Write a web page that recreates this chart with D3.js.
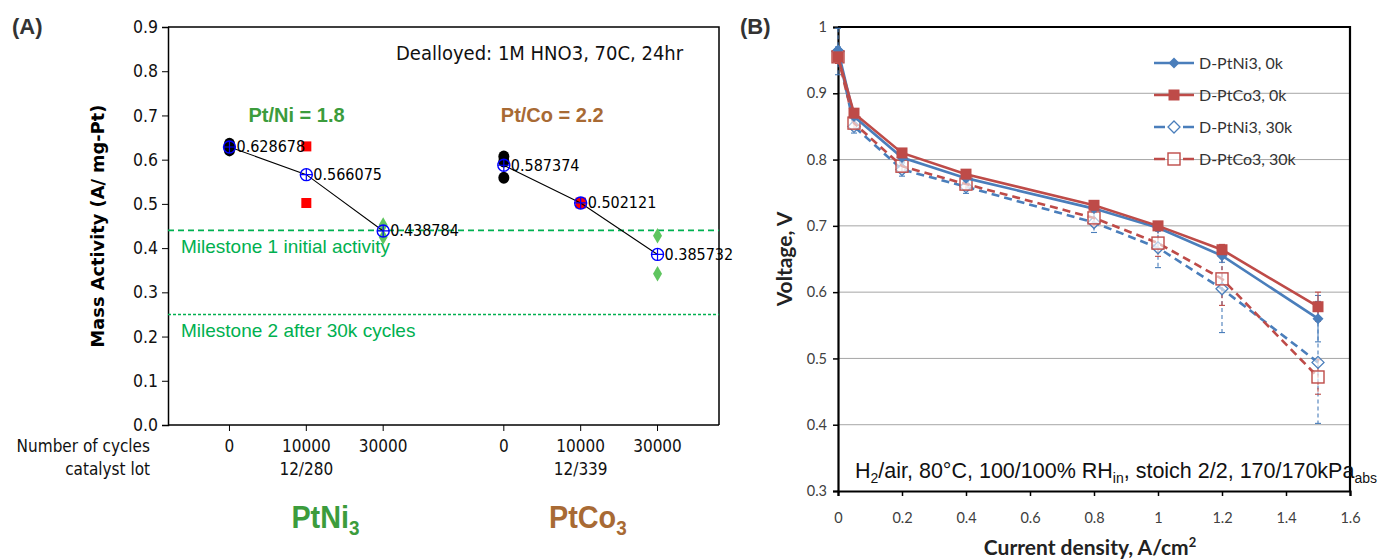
<!DOCTYPE html>
<html><head><meta charset="utf-8">
<script src="https://cdn.jsdelivr.net/npm/d3@7/dist/d3.min.js"></script>
<style>body{margin:0;background:#fff}</style>
</head><body><svg id="c" width="1387" height="559"></svg>
<script>
// ---------- Panel A data ----------
const cycleLabels = ["0", "10000", "30000"];
const lotLabels = ["12/280", "12/339"];
const alloyNames = ["PtNi", "PtCo"];
const ratioLabels = ["Pt/Ni = 1.8", "Pt/Co = 2.2"];
const ptNiRaw = [[0.636, 0.629, 0.621], [0.630, 0.502], [0.452, 0.425]];
const ptCoRaw = [[0.607, 0.596, 0.559], [0.503, 0.501], [0.428, 0.342]];
const ptNiMean = [0.628678, 0.566075, 0.438784];
const ptCoMean = [0.587374, 0.502121, 0.385732];
const milestoneValues = [0.44, 0.25];
const milestoneLabels = ["Milestone 1 initial activity", "Milestone 2 after 30k cycles"];
const yTicksA = [0, 0.1, 0.2, 0.3, 0.4, 0.5, 0.6, 0.7, 0.8, 0.9];

// ---------- Panel B data ----------
const currentDensity = [0, 0.05, 0.2, 0.4, 0.8, 1.0, 1.2, 1.5];
const seriesNames = ["D-PtNi3, 0k", "D-PtCo3, 0k", "D-PtNi3, 30k", "D-PtCo3, 30k"];
const ni0k  = [0.965, 0.865, 0.803, 0.772, 0.726, 0.697, 0.655, 0.560];
const co0k  = [0.955, 0.870, 0.810, 0.778, 0.731, 0.700, 0.664, 0.578];
const ni30k = [0.963, 0.850, 0.785, 0.759, 0.705, 0.667, 0.605, 0.494];
const co30k = [0.955, 0.855, 0.790, 0.763, 0.712, 0.674, 0.620, 0.472];
const ni0kErr  = [0.005, 0.005, 0.005, 0.005, 0.005, 0.005, 0.010, 0.035];
const co0kErr  = [0.005, 0.005, 0.005, 0.005, 0.005, 0.005, 0.008, 0.022];
const ni30kErr = [0.035, 0.010, 0.010, 0.010, 0.015, 0.030, 0.066, 0.092];
const co30kErr = [0.010, 0.010, 0.008, 0.008, 0.012, 0.020, 0.040, 0.026];
const xTicksB = [0, 0.2, 0.4, 0.6, 0.8, 1, 1.2, 1.4, 1.6];
const yTicksB = [0.3, 0.4, 0.5, 0.6, 0.7, 0.8, 0.9, 1];

const svg = d3.select("#c");
const tahoma = "'DejaVu Sans Condensed','DejaVu Sans',sans-serif";
const arial = "'Liberation Sans',Arial,sans-serif";
const calibri = "Lato,'Open Sans',sans-serif";

// ================= PANEL A =================
const xA = d3.scaleLinear().domain([0, 7.17]).range([168, 719]);
const yA = d3.scaleLinear().domain([0, 0.9]).range([425, 27]);
const posA = (g, i) => xA(0.8 + g * 3.57 + i);
const gA = svg.append("g");

svg.append("text").attr("x", 12).attr("y", 34).text("(A)")
  .attr("font-family", arial).attr("font-weight", "bold").attr("font-size", 22).attr("fill", "#333");

// frame top/right
gA.append("path").attr("d", `M${xA(0)},${yA(0.9)}H${xA(7.17)}V${yA(0)}`)
  .attr("fill", "none").attr("stroke", "#000").attr("stroke-width", 1.5);

// y axis
const yAxA = gA.append("g").attr("transform", `translate(${xA(0)},0)`)
  .call(d3.axisLeft(yA).tickValues(yTicksA).tickFormat(d3.format(".1f")).tickSize(6).tickPadding(4));
yAxA.select(".domain").attr("stroke-width", 1.5);
yAxA.selectAll("text").attr("font-family", tahoma).attr("font-size", 17.5).attr("fill", "#111");

// x axis line + ticks
gA.append("line").attr("x1", xA(0)).attr("x2", xA(7.17)).attr("y1", yA(0)).attr("y2", yA(0))
  .attr("stroke", "#000").attr("stroke-width", 1.5);
[0, 1].forEach(g => cycleLabels.forEach((c, i) => {
  gA.append("line").attr("x1", posA(g, i)).attr("x2", posA(g, i)).attr("y1", yA(0)).attr("y2", yA(0) + 6)
    .attr("stroke", "#000");
  gA.append("text").attr("x", posA(g, i)).attr("y", 452).attr("text-anchor", "middle").text(c)
    .attr("font-family", tahoma).attr("font-size", 17).attr("fill", "#111");
}));
lotLabels.forEach((l, g) => gA.append("text").attr("x", posA(g, 1)).attr("y", 475).attr("text-anchor", "middle")
  .text(l).attr("font-family", tahoma).attr("font-size", 17).attr("fill", "#111"));
gA.append("text").attr("x", 150).attr("y", 452).attr("text-anchor", "end").text("Number of cycles")
  .attr("font-family", tahoma).attr("font-size", 17).attr("fill", "#111");
gA.append("text").attr("x", 150).attr("y", 475).attr("text-anchor", "end").text("catalyst lot")
  .attr("font-family", tahoma).attr("font-size", 17).attr("fill", "#111");

// alloy names with subscript
const alloyColors = ["#3c9c3c", "#a86a34"];
const alloyCx = [posA(0, 0) + 96, posA(1, 0) + 84];
alloyNames.forEach((n, g) => {
  const cx = alloyCx[g];
  const t = gA.append("text").attr("x", cx).attr("y", 528).attr("text-anchor", "middle")
    .attr("font-family", arial).attr("font-weight", "bold").attr("font-size", 32).attr("fill", alloyColors[g])
    .attr("transform", `translate(${cx},528) scale(0.9,1) translate(${-cx},-528)`);
  t.append("tspan").text(n);
  t.append("tspan").attr("font-size", 21).attr("dy", 7).text("3");
});
// ratio labels
const ratioStart = [posA(0, 0) + 19, posA(1, 0) - 3];
ratioLabels.forEach((r, g) => gA.append("text").attr("x", ratioStart[g]).attr("y", 122)
  .text(r).attr("font-family", arial).attr("font-weight", "bold").attr("font-size", 20).attr("fill", alloyColors[g]));

gA.append("text").attr("x", 396).attr("y", 60).text("Dealloyed: 1M HNO3, 70C, 24hr")
  .attr("font-family", tahoma).attr("font-size", 20).attr("fill", "#111");

// y title
gA.append("text").attr("transform", `translate(104,${yA(0.45)}) rotate(-90)`).attr("text-anchor", "middle")
  .text("Mass Activity (A/ mg-Pt)").attr("font-family", "'DejaVu Sans',sans-serif").attr("font-weight", "bold")
  .attr("font-size", 17.8).attr("fill", "#000");

// milestones
const msColor = "#00b050";
milestoneValues.forEach((v, k) => {
  gA.append("line").attr("x1", xA(0)).attr("x2", xA(7.17)).attr("y1", yA(v)).attr("y2", yA(v))
    .attr("stroke", msColor).attr("stroke-width", 1.6).attr("stroke-dasharray", k === 0 ? "6,4" : "3,2");
  gA.append("text").attr("x", 181).attr("y", yA(v) + 23).text(milestoneLabels[k])
    .attr("font-family", arial).attr("font-size", 19).attr("fill", msColor);
});

// points
const rawSets = [ptNiRaw, ptCoRaw];
const meanSets = [ptNiMean, ptCoMean];
rawSets.forEach((raw, g) => {
  raw.forEach((vals, i) => {
    const x = posA(g, i);
    vals.forEach(v => {
      if (i === 0) gA.append("ellipse").attr("cx", x).attr("cy", yA(v)).attr("rx", 5.5).attr("ry", 6).attr("fill", "#000");
      else if (i === 1) gA.append("rect").attr("x", x - 5).attr("y", yA(v) - 5).attr("width", 10).attr("height", 10).attr("fill", "#ff0000");
      else gA.append("path").attr("d", d3.symbol(d3.symbolDiamond, 70)()).attr("transform", `translate(${x},${yA(v)})`).attr("fill", "#5fc55f");
    });
  });
  const means = meanSets[g];
  gA.append("path").datum(means)
    .attr("d", d3.line().x((d, i) => posA(g, i)).y(d => yA(d)))
    .attr("fill", "none").attr("stroke", "#000").attr("stroke-width", 1.1);
  means.forEach((m, i) => {
    const x = posA(g, i), y = yA(m);
    gA.append("circle").attr("cx", x).attr("cy", y).attr("r", 6).attr("fill", "none").attr("stroke", "#0000ff").attr("stroke-width", 1.4);
    gA.append("path").attr("d", `M${x - 6},${y}H${x + 6}M${x},${y - 6}V${y + 6}`).attr("stroke", "#0000ff").attr("stroke-width", 1.2);
    gA.append("text").attr("x", x + 7).attr("y", y + 5.5).text(m.toString())
      .attr("font-family", tahoma).attr("font-size", 16).attr("fill", "#000");
  });
});

// ================= PANEL B =================
const xB = d3.scaleLinear().domain([0, 1.6]).range([838, 1350]);
const yB = d3.scaleLinear().domain([0.3, 1]).range([491, 27]);
const gB = svg.append("g");

svg.append("text").attr("x", 740).attr("y", 34).text("(B)")
  .attr("font-family", arial).attr("font-weight", "bold").attr("font-size", 22).attr("fill", "#333");

// gridlines
gB.selectAll(".grid").data(yTicksB.slice(1, -1)).join("line")
  .attr("x1", xB(0)).attr("x2", xB(1.6)).attr("y1", d => yB(d)).attr("y2", d => yB(d))
  .attr("stroke", "#a6a6a6").attr("stroke-width", 1);

// axes
const yAxB = gB.append("g").attr("transform", `translate(${xB(0)},0)`)
  .call(d3.axisLeft(yB).tickValues(yTicksB).tickFormat(d => +d.toFixed(1)).tickSize(5).tickPadding(6));
const xAxB = gB.append("g").attr("transform", `translate(0,${yB(0.3)})`)
  .call(d3.axisBottom(xB).tickValues(xTicksB).tickFormat(d => +d.toFixed(1)).tickSize(5).tickPadding(17));
[yAxB, xAxB].forEach(a => {
  a.select(".domain").attr("stroke-width", 2.2);
  a.selectAll(".tick line").attr("stroke-width", 1.5);
  a.selectAll("text").attr("font-family", calibri).attr("font-size", 14.5).attr("fill", "#404040");
});
gB.append("path").attr("d", `M${xB(0)},${yB(1)}H${xB(1.6)}V${yB(0.3)}`)
  .attr("fill", "none").attr("stroke", "#000").attr("stroke-width", 2.2);

gB.append("text").attr("transform", `translate(792,${(yB(1) + yB(0.3)) / 2}) rotate(-90)`).attr("text-anchor", "middle")
  .text("Voltage, V").attr("font-family", calibri).attr("font-weight", "bold").attr("font-size", 21).attr("fill", "#222");
const xt = gB.append("text").attr("x", 1090).attr("y", 555).attr("text-anchor", "middle")
  .attr("font-family", calibri).attr("font-weight", "bold").attr("font-size", 21).attr("fill", "#222");
xt.append("tspan").text("Current density, A/cm");
xt.append("tspan").attr("font-size", 13).attr("dy", -8).text("2");

// annotation
const an = gB.append("text").attr("x", 855).attr("y", 478).attr("font-family", arial).attr("font-size", 21.5).attr("fill", "#111");
an.append("tspan").text("H");
an.append("tspan").attr("font-size", 14).attr("dy", 5).text("2");
an.append("tspan").attr("dy", -5).text("/air, 80°C, 100/100% RH");
an.append("tspan").attr("font-size", 14).attr("dy", 5).text("in");
an.append("tspan").attr("dy", -5).text(", stoich 2/2, 170/170kPa");
an.append("tspan").attr("font-size", 14).attr("dy", 5).text("abs");

// series
const blue = "#4a7ebb", red = "#be4b48";
const series = [
  {v: ni0k, e: ni0kErr, c: blue, dash: null, sym: "diamond", fill: true},
  {v: co0k, e: co0kErr, c: red, dash: null, sym: "square", fill: true},
  {v: ni30k, e: ni30kErr, c: blue, dash: "8,5", sym: "diamond", fill: false},
  {v: co30k, e: co30kErr, c: red, dash: "8,5", sym: "square", fill: false},
];
const drawMarker = (g, s, x, y) => {
  if (s.sym === "square") {
    const size = s.fill ? 11 : 12;
    g.append("rect").attr("x", x - size / 2).attr("y", y - size / 2).attr("width", size).attr("height", size)
      .attr("fill", s.fill ? s.c : "#fff").attr("fill-opacity", s.fill ? 1 : 0.6).attr("stroke", s.c).attr("stroke-width", s.fill ? 0 : 1.4);
  } else {
    const r = s.fill ? 5.5 : 6;
    g.append("path").attr("d", `M${x},${y - r}L${x + r},${y}L${x},${y + r}L${x - r},${y}Z`)
      .attr("fill", s.fill ? s.c : "#fff").attr("fill-opacity", s.fill ? 1 : 0.6).attr("stroke", s.c).attr("stroke-width", s.fill ? 0 : 1.3);
  }
};
// error bars first
[2, 3, 0, 1].forEach(k => {
  const s = series[k];
  s.v.forEach((v, i) => {
    const x = xB(currentDensity[i]);
    const y1 = yB(v + s.e[i]), y2 = yB(v - s.e[i]);
    gB.append("line").attr("x1", x).attr("x2", x).attr("y1", y1).attr("y2", y2)
      .attr("stroke", s.c).attr("stroke-width", 1.1).attr("stroke-dasharray", s.dash ? "4,3" : null);
    [y1, y2].forEach(yy => gB.append("line").attr("x1", x - 3).attr("x2", x + 3).attr("y1", yy).attr("y2", yy)
      .attr("stroke", s.c).attr("stroke-width", 1.1));
  });
});
[2, 3, 0, 1].forEach(k => {
  const s = series[k];
  gB.append("path").datum(s.v)
    .attr("d", d3.line().x((d, i) => xB(currentDensity[i])).y(d => yB(d)))
    .attr("fill", "none").attr("stroke", s.c).attr("stroke-width", 2.6).attr("stroke-dasharray", s.dash);
  s.v.forEach((v, i) => drawMarker(gB, s, xB(currentDensity[i]), yB(v)));
});

// legend
seriesNames.forEach((n, k) => {
  const s = series[k];
  const y = 63 + k * 32;
  gB.append("line").attr("x1", 1154).attr("x2", 1194).attr("y1", y).attr("y2", y)
    .attr("stroke", s.c).attr("stroke-width", 2.6).attr("stroke-dasharray", s.dash ? "11,18,11" : null);
  drawMarker(gB, s, 1174, y);
  gB.append("text").attr("x", 1199).attr("y", y + 5.5).text(n)
    .attr("font-family", calibri).attr("font-size", 16).attr("fill", "#333");
});
</script></body></html>
